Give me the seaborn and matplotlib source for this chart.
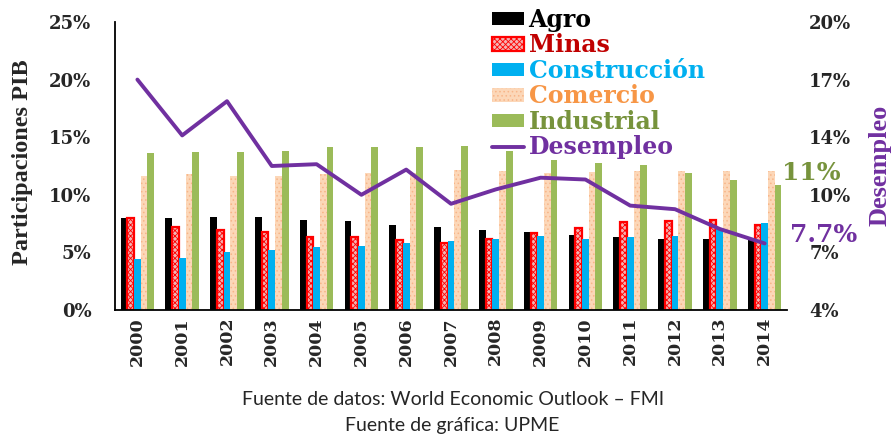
import numpy as np
import pandas as pd
import matplotlib
matplotlib.use("Agg")
import matplotlib.pyplot as plt
from matplotlib.patches import Patch
from matplotlib.lines import Line2D
from matplotlib.ticker import FixedLocator
import seaborn as sns

# data (% of GDP, unemployment in %)
years = [str(y) for y in range(2000, 2015)]
agro = [7.95, 7.95, 8.1, 8.05, 7.85, 7.7, 7.4, 7.2, 6.95, 6.8, 6.55, 6.3, 6.15, 6.2, 6.1]
minas = [8.0, 7.2, 6.95, 6.8, 6.35, 6.35, 6.1, 5.8, 6.15, 6.65, 7.1, 7.6, 7.7, 7.8, 7.35]
construccion = [4.4, 4.55, 5.0, 5.2, 5.45, 5.55, 5.85, 5.95, 6.2, 6.45, 6.2, 6.3, 6.4, 7.05, 7.55]
comercio = [11.65, 11.8, 11.65, 11.65, 11.8, 11.85, 11.85, 12.15, 12.1, 11.85, 12.0, 12.05, 12.05, 12.05, 12.1]
industrial = [13.6, 13.75, 13.7, 13.8, 14.15, 14.15, 14.15, 14.2, 13.8, 13.0, 12.75, 12.55, 11.9, 11.3, 10.85]
desempleo = [16.8, 13.7, 15.6, 12.0, 12.1, 10.4, 11.8, 9.9, 10.7, 11.35, 11.25, 9.8, 9.6, 8.5, 7.7]

sectors = ["Agro", "Minas", "Construcción", "Comercio", "Industrial"]
colors = {"Agro": "#000000", "Minas": "#f3b3b3", "Construcción": "#00b0f0",
          "Comercio": "#fcd7b8", "Industrial": "#9bbb59"}
text_colors = ["#000000", "#c00000", "#00b0f0", "#f79646", "#77933c", "#7030a0"]
line_color = "#7030a0"

df = pd.DataFrame({"year": years, "Agro": agro, "Minas": minas,
                   "Construcción": construccion, "Comercio": comercio,
                   "Industrial": industrial})
long_df = df.melt(id_vars="year", var_name="sector", value_name="share")

sns.set_style("white")
plt.rcParams["font.family"] = ["DejaVu Serif"]
plt.rcParams["hatch.linewidth"] = 0.6

fig = plt.figure(figsize=(8.94, 4.36), dpi=100)
ax = fig.add_axes([115 / 894, 1 - 310 / 436, 672 / 894, 288 / 436])

sns.barplot(data=long_df, x="year", y="share", hue="sector", hue_order=sectors,
            palette=colors, width=0.75, gap=0, saturation=1, legend=False, ax=ax)

# patterned fills for Minas and Comercio
for cont, name in zip(ax.containers, sectors):
    for bar in cont:
        if name == "Minas":
            bar.set_edgecolor("#ff0000")
            bar.set_linewidth(1.6)
            bar.set_hatch("xxxxxx")
        elif name == "Comercio":
            bar.set_edgecolor("#f8b588")
            bar.set_linewidth(0)
            bar.set_hatch("....")
        else:
            bar.set_linewidth(0)

ax.set_ylim(0, 25)
ax.set_xlim(-0.5, len(years) - 0.5)
ax.set_yticks([0, 5, 10, 15, 20, 25])
ax.set_yticklabels([f"{v}%" for v in [0, 5, 10, 15, 20, 25]])
ax.set_xlabel("")
ax.set_ylabel("")
ax.tick_params(axis="y", length=0, pad=17, labelsize=13)
ax.tick_params(axis="x", which="major", length=0, pad=5, labelsize=12.5, labelrotation=90)
ax.xaxis.set_minor_locator(FixedLocator(np.arange(-0.5, len(years), 1.0)))
ax.tick_params(axis="x", which="minor", length=4, width=1.2, direction="out", color="black")
for lab in ax.get_xticklabels() + ax.get_yticklabels():
    lab.set_fontweight("bold")
for side in ["top", "right"]:
    ax.spines[side].set_visible(False)
for side in ["left", "bottom"]:
    ax.spines[side].set_color("black")
    ax.spines[side].set_linewidth(1.3)

# unemployment on the secondary axis
ax2 = ax.twinx()
ax2.plot(range(len(years)), desempleo, color=line_color, lw=2.8,
         solid_joinstyle="round", solid_capstyle="round")
ax2.set_ylim(4, 20)
r_ticks = np.linspace(4, 20, 6)
ax2.set_yticks(r_ticks)
ax2.set_yticklabels([f"{v:.0f}%" for v in r_ticks])
ax2.tick_params(axis="y", length=0, pad=16, labelsize=13)
for lab in ax2.get_yticklabels():
    lab.set_fontweight("bold")
for s in ax2.spines.values():
    s.set_visible(False)
ax2.grid(False)
ax.grid(False)

# end-of-series annotations
ax.annotate(f"{round(industrial[-1])}%", xy=(len(years) - 1 + 0.3, industrial[-1]),
            xytext=(3, 9), textcoords="offset points", ha="left", va="center",
            fontsize=18, fontweight="bold", color="#77933c", annotation_clip=False)
ax2.annotate(f"{desempleo[-1]}%", xy=(len(years) - 1, desempleo[-1]),
             xytext=(18, 6), textcoords="offset points", ha="left", va="center",
             fontsize=18, fontweight="bold", color=line_color, annotation_clip=False)

# legend
handles = [
    Patch(facecolor=colors["Agro"], edgecolor="none"),
    Patch(facecolor=colors["Minas"], edgecolor="#ff0000", hatch="xxxxxx", lw=1.6),
    Patch(facecolor=colors["Construcción"], edgecolor="none"),
    Patch(facecolor=colors["Comercio"], edgecolor="#f8b588", hatch="....", lw=0),
    Patch(facecolor=colors["Industrial"], edgecolor="none"),
    Line2D([0], [0], color=line_color, lw=2.8),
]
leg = ax2.legend(handles, sectors + ["Desempleo"], loc="upper left",
                 bbox_to_anchor=(492 / 894, 1 - 8 / 436), bbox_transform=fig.transFigure,
                 frameon=False, labelspacing=0.06, handlelength=1.35,
                 handleheight=0.5, handletextpad=0.2, borderpad=0, borderaxespad=0,
                 prop={"weight": "bold", "size": 17})
for txt, c in zip(leg.get_texts(), text_colors):
    txt.set_color(c)

# axis titles
fig.text(23 / 894, 1 - 162 / 436, "Participaciones PIB", rotation=90, ha="center",
         va="center", fontsize=17.5, fontweight="bold", family=["Liberation Serif"])
fig.text(880 / 894, 1 - 165 / 436, "Desempleo", rotation=90, ha="center",
         va="center", fontsize=19, fontweight="bold", family=["Liberation Serif"],
         color=line_color)

# sources
fig.text(453 / 894, 1 - 399 / 436, "Fuente de datos: World Economic Outlook – FMI",
         ha="center", va="center", fontsize=14, family=["Lato", "DejaVu Sans"])
fig.text(452 / 894, 1 - 425 / 436, "Fuente de gráfica: UPME",
         ha="center", va="center", fontsize=14, family=["Lato", "DejaVu Sans"])

fig.savefig("out.png", dpi=100)
